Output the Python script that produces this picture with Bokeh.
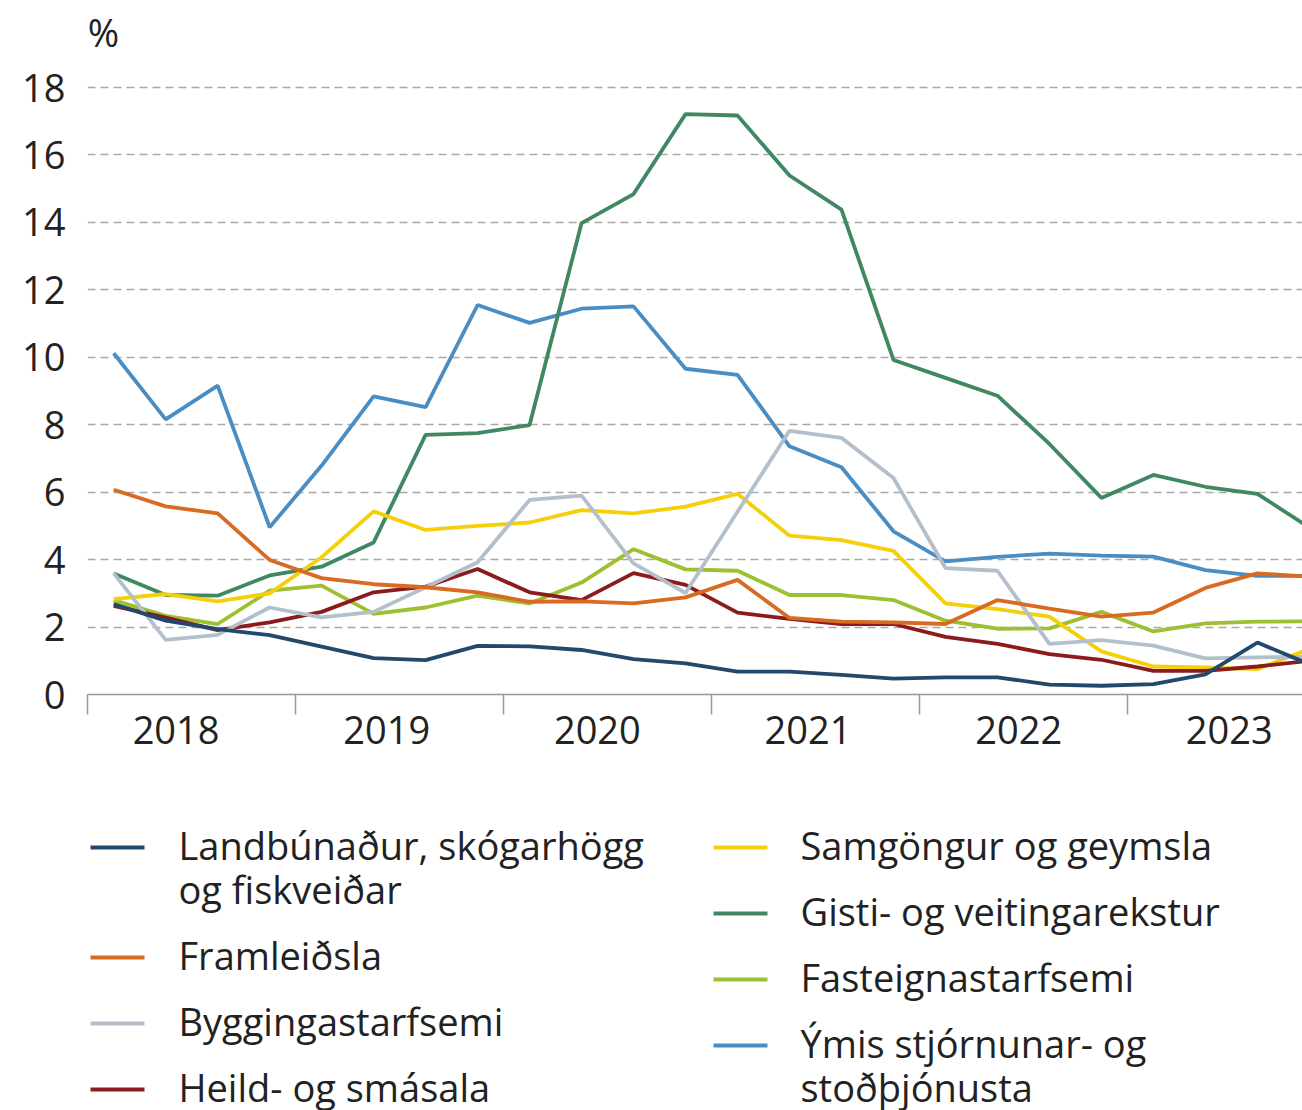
from bokeh.plotting import figure
from bokeh.models import Range1d, FixedTicker, CustomJSTickFormatter, ColumnDataSource
from bokeh.layouts import column
from bokeh.embed import file_html
from bokeh.resources import INLINE
from bokeh.core.properties import value

# ---------------- data ----------------
years = [2018, 2019, 2020, 2021, 2022, 2023]
quarters = [(y, q) for y in years for q in (1, 2, 3, 4)]

landbunadur = [2.68, 2.19, 1.94, 1.76, 1.42, 1.08, 1.02, 1.44, 1.43, 1.32, 1.05, 0.92,
               0.68, 0.68, 0.58, 0.47, 0.51, 0.51, 0.29, 0.26, 0.31, 0.60, 1.54, 0.90]
framleidsla = [6.07, 5.58, 5.37, 3.99, 3.45, 3.27, 3.18, 3.03, 2.75, 2.76, 2.70, 2.88,
               3.40, 2.27, 2.16, 2.14, 2.09, 2.80, 2.55, 2.31, 2.43, 3.16, 3.59, 3.50]
bygging = [3.59, 1.62, 1.77, 2.58, 2.29, 2.45, 3.18, 3.92, 5.77, 5.90, 3.89, 3.01,
           5.42, 7.82, 7.61, 6.42, 3.75, 3.67, 1.50, 1.61, 1.45, 1.07, 1.10, 1.12]
heild = [2.63, 2.28, 1.91, 2.14, 2.45, 3.03, 3.20, 3.72, 3.03, 2.80, 3.60, 3.25,
         2.43, 2.24, 2.09, 2.09, 1.71, 1.50, 1.20, 1.03, 0.70, 0.70, 0.83, 1.00]
samgongur = [2.83, 2.98, 2.76, 3.00, 4.07, 5.43, 4.88, 5.00, 5.10, 5.47, 5.37, 5.57,
             5.95, 4.71, 4.58, 4.26, 2.70, 2.53, 2.31, 1.28, 0.83, 0.80, 0.75, 1.35]
gisti = [3.59, 2.95, 2.93, 3.53, 3.79, 4.51, 7.70, 7.75, 7.99, 13.98, 14.84, 17.21,
         17.17, 15.39, 14.38, 9.92, 9.39, 8.86, 7.43, 5.83, 6.51, 6.16, 5.95, 4.95]
fasteigna = [2.80, 2.33, 2.09, 3.08, 3.23, 2.39, 2.58, 2.93, 2.70, 3.32, 4.31, 3.71,
             3.67, 2.95, 2.95, 2.80, 2.19, 1.95, 1.96, 2.45, 1.87, 2.11, 2.16, 2.17]
ymis = [10.12, 8.16, 9.16, 4.96, 6.79, 8.84, 8.52, 11.55, 11.02, 11.44, 11.51, 9.66,
        9.48, 7.36, 6.74, 4.84, 3.95, 4.08, 4.18, 4.12, 4.09, 3.69, 3.52, 3.52]

series_names = [
    "Landbúnaður, skógarhögg\nog fiskveiðar",
    "Framleiðsla",
    "Byggingastarfsemi",
    "Heild- og smásala",
    "Samgöngur og geymsla",
    "Gisti- og veitingarekstur",
    "Fasteignastarfsemi",
    "Ýmis stjórnunar- og\nstoðþjónusta",
]
series_values = [landbunadur, framleidsla, bygging, heild, samgongur, gisti, fasteigna, ymis]
series_colors = ["#22496b", "#d86a22", "#b4bfcc", "#8c1c1c",
                 "#f5cf0a", "#3f8862", "#9dc030", "#4a8dc3"]

y_ticks = [0, 2, 4, 6, 8, 10, 12, 14, 16, 18]
unit_label = "%"

FONT = "Open Sans"
TXT = "#222222"
FS = "38px"
W = 1302
LEFT = 87

# ---------------- main chart ----------------
x = [y + (q - 0.5) / 4 for (y, q) in quarters]

p = figure(width=W, height=780,
           x_range=Range1d(2017.999, 2023.842), y_range=Range1d(0, 20.58),
           output_backend="svg", toolbar_location=None,
           min_border_left=LEFT, min_border_right=0, min_border_top=0, min_border_bottom=86)
p.outline_line_color = None

label_pos = [yr + 0.425 + 0.013 * k for k, yr in enumerate(years)]
p.xaxis.ticker = FixedTicker(ticks=label_pos, minor_ticks=years + [years[-1] + 1])
p.xaxis.formatter = CustomJSTickFormatter(code="return String(Math.floor(tick))")
p.xaxis.major_tick_line_color = None
p.xaxis.major_tick_out = 0
p.xaxis.major_tick_in = 0
p.xaxis.minor_tick_in = 0
p.xaxis.minor_tick_out = 20
p.xaxis.minor_tick_line_color = "#999999"
p.xaxis.minor_tick_line_width = 1.5
p.xaxis.axis_line_color = "#999999"
p.xaxis.axis_line_width = 1.5
p.xaxis.major_label_standoff = 1
p.xaxis.major_label_text_font = FONT
p.xaxis.major_label_text_font_size = FS
p.xaxis.major_label_text_color = TXT

p.yaxis.ticker = FixedTicker(ticks=y_ticks)
p.yaxis.axis_line_color = None
p.yaxis.major_tick_line_color = None
p.yaxis.major_tick_out = 0
p.yaxis.major_tick_in = 0
p.yaxis.minor_tick_line_color = None
p.yaxis.major_label_standoff = 22
p.yaxis.major_label_text_font = FONT
p.yaxis.major_label_text_font_size = FS
p.yaxis.major_label_text_color = TXT

p.xgrid.visible = False
p.ygrid.ticker = FixedTicker(ticks=y_ticks[1:])
p.ygrid.grid_line_color = "#a8a8a8"
p.ygrid.grid_line_width = 1.5
p.ygrid.grid_line_dash = "8 5"

# unit label above the value axis
p.text(x=[years[0]], y=[y_ticks[-1] + 1.65], text=[unit_label], text_font=value(FONT),
       text_font_size=FS, text_color=TXT, text_baseline="alphabetic", text_align="left")

for i in reversed(range(len(series_values))):
    p.line(x, series_values[i], line_color=series_colors[i], line_width=3.8)

# ---------------- legend (two columns) ----------------
LH = 330
lg = figure(width=W, height=LH, x_range=Range1d(LEFT, W), y_range=Range1d(LH, 0),
            output_backend="svg", toolbar_location=None, min_border=0,
            min_border_left=LEFT, min_border_right=0)
lg.axis.visible = False
lg.grid.visible = False
lg.outline_line_color = None

col_line_x = [90, 713]
line_len = 54
col_text_x = [178, 800]
row0, row_step, line_step = 64, 66, 44

seg = dict(x0=[], x1=[], y=[], c=[])
txt = dict(x=[], y=[], t=[])
for i, name in enumerate(series_names):
    col = i // 4
    if i % 4 == 0:
        ycur = row0
    parts = name.split("\n")
    seg["x0"].append(col_line_x[col])
    seg["x1"].append(col_line_x[col] + line_len)
    seg["y"].append(ycur + 3)
    seg["c"].append(series_colors[i])
    for k, part in enumerate(parts):
        txt["x"].append(col_text_x[col])
        txt["y"].append(ycur + k * line_step)
        txt["t"].append(part)
    ycur += row_step + (len(parts) - 1) * line_step

lg.segment(x0="x0", x1="x1", y0="y", y1="y", line_color="c", line_width=3.8,
           source=ColumnDataSource(seg))
lg.text(x="x", y="y", text="t", source=ColumnDataSource(txt), text_font=value(FONT),
        text_font_size=FS, text_color=TXT, text_baseline="middle", text_align="left")

layout = column(p, lg, spacing=0)
open("out.html", "w").write(file_html(layout, INLINE))
